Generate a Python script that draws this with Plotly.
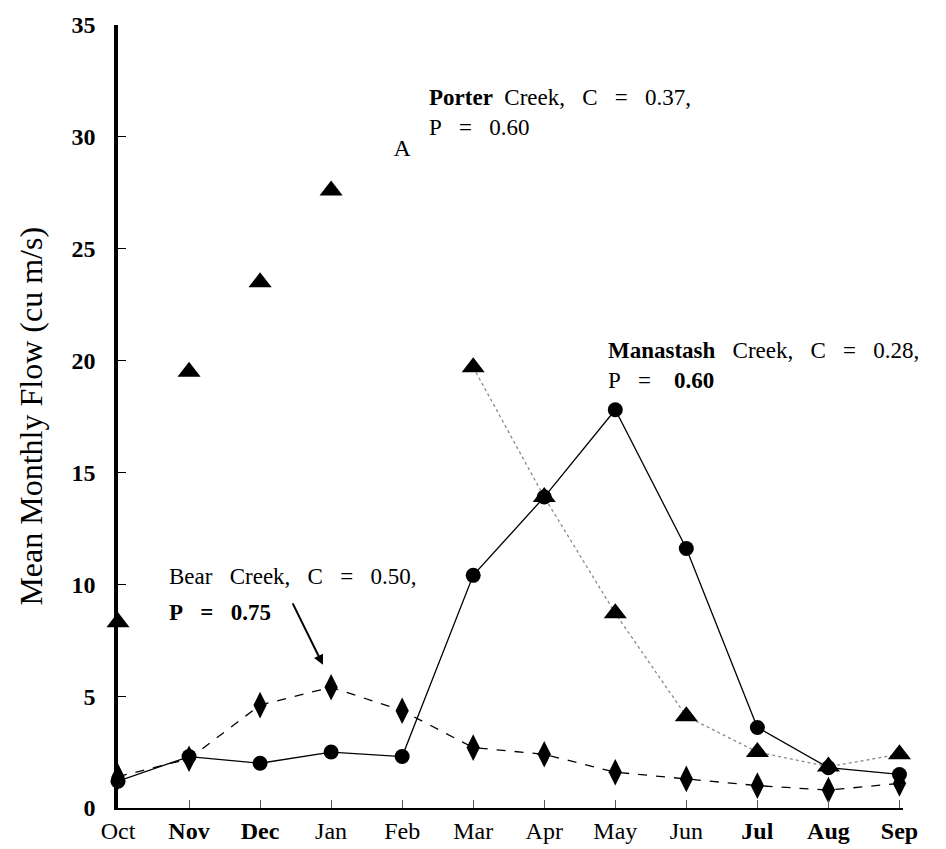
import plotly.graph_objects as go

months = ["Oct", "Nov", "Dec", "Jan", "Feb", "Mar", "Apr", "May", "Jun", "Jul", "Aug", "Sep"]
month_labels = ["Oct", "<b>Nov</b>", "<b>Dec</b>", "Jan", "Feb", "Mar", "Apr", "May", "Jun",
                "<b>Jul</b>", "<b>Aug</b>", "<b>Sep</b>"]
porter = [8.3, 19.5, 23.5, 27.6, 29.4, 19.7, 13.9, 8.7, 4.1, 2.5, 1.85, 2.4]
manastash = [1.2, 2.3, 2.0, 2.5, 2.3, 10.4, 13.9, 17.8, 11.6, 3.6, 1.8, 1.5]
bear = [1.4, 2.2, 4.6, 5.4, 4.35, 2.7, 2.4, 1.6, 1.3, 1.0, 0.8, 1.1]
y_ticks = [0, 5, 10, 15, 20, 25, 30, 35]

# Porter's connecting line is only visible in the scan from March onward
porter_line_visible_from = 5
# Feb point of Porter appears as the letter "A" in the scan
porter_text_point = 4

x = list(range(len(months)))
FONT = "Liberation Serif"
NB = "\u00a0"


def sp(s, n=2):
    return s.replace(" ", NB * n + " ")


fig = go.Figure()

fig.add_trace(go.Scatter(
    x=x, y=bear, mode="lines+markers",
    line=dict(color="black", width=1.3, dash="dash"),
    marker=dict(symbol="diamond-tall", size=19, color="black", opacity=1),
    cliponaxis=False, showlegend=False))

fig.add_trace(go.Scatter(
    x=x, y=manastash, mode="lines+markers",
    line=dict(color="black", width=1.3),
    marker=dict(symbol="circle", size=15, color="black", opacity=1),
    cliponaxis=False, showlegend=False))

fig.add_trace(go.Scatter(
    x=x, y=[v if i >= porter_line_visible_from else None for i, v in enumerate(porter)],
    mode="lines",
    line=dict(color="#8a8a8a", width=1.3, dash="dot"),
    cliponaxis=False, showlegend=False))

fig.add_trace(go.Scatter(
    x=x, y=porter, mode="markers+text",
    marker=dict(symbol="triangle-up",
                size=[0 if i == porter_text_point else 20 for i in x],
                color="black", opacity=1, line=dict(width=0)),
    text=["A" if i == porter_text_point else "" for i in x],
    textposition="middle center",
    textfont=dict(family=FONT, size=24, color="black"),
    cliponaxis=False, showlegend=False))

ann_font = dict(family=FONT, size=23, color="black")
annotations = [
    dict(x=4.35, y=31.1,
         text="<b>Porter</b>" + NB + " " + sp("Creek, C = 0.37,") + "<br>" + sp("P = 0.60"),
         showarrow=False, align="left", xanchor="left", yanchor="middle", font=ann_font),
    dict(x=6.87, y=19.76,
         text="<b>Manastash</b>" + NB * 2 + " " + sp("Creek, C = 0.28,") + "<br>"
              + sp("P = ") + NB + "<b>0.60</b>",
         showarrow=False, align="left", xanchor="left", yanchor="middle", font=ann_font),
    dict(x=0.69, y=10.33, text=sp("Bear Creek, C = 0.50,"), showarrow=False,
         xanchor="left", yanchor="middle", font=ann_font),
    dict(x=0.69, y=8.76, text="<b>" + sp("P = 0.75") + "</b>", showarrow=False,
         xanchor="left", yanchor="middle", font=ann_font),
    dict(x=2.885, y=6.4, ax=-31, ay=-63, text="", showarrow=True,
         arrowhead=2, arrowsize=1, arrowwidth=2, arrowcolor="black"),
    dict(x=-0.112, y=0.5, xref="paper", yref="paper", text="Mean Monthly Flow (cu m/s)",
         textangle=-90, showarrow=False, xanchor="center", yanchor="middle",
         font=dict(family=FONT, size=32, color="black")),
]

fig.update_layout(
    width=938, height=841,
    margin=dict(l=110, r=43, t=17, b=41),
    paper_bgcolor="white", plot_bgcolor="white",
    annotations=annotations,
    xaxis=dict(
        range=[0, 11.05], tickvals=x, ticktext=month_labels,
        showgrid=False, zeroline=False, automargin=False,
        showline=True, linecolor="black", linewidth=2,
        ticks="inside", ticklen=8, tickwidth=1, tickcolor="#555",
        tickfont=dict(family=FONT, size=24, color="black"),
    ),
    yaxis=dict(
        range=[0, 35], tickvals=y_ticks,
        showgrid=False, zeroline=False, automargin=False,
        showline=True, linecolor="black", linewidth=3.5,
        ticks="inside", ticklen=8, tickwidth=1, tickcolor="black",
        ticklabelstandoff=14,
        tickfont=dict(family=FONT, size=24, color="black", weight="bold"),
    ),
)

fig.write_html("out.html")
